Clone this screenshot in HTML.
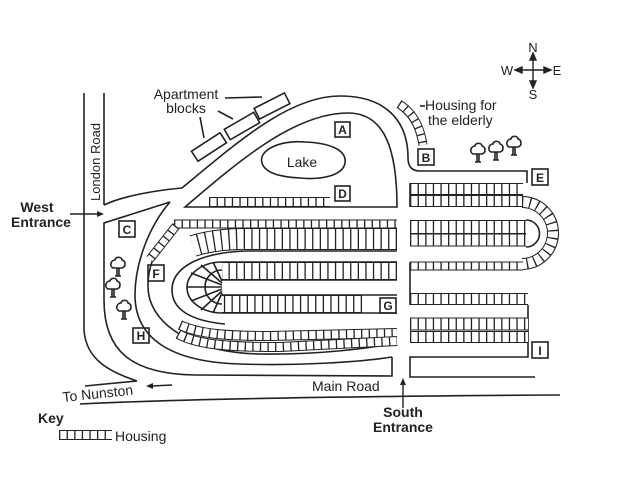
<!DOCTYPE html>
<html><head><meta charset="utf-8"><style>
html,body{margin:0;padding:0;background:#fff;}
svg{display:block;}
text{font-family:"Liberation Sans",sans-serif;fill:#222;}
.l{fill:none;stroke:#222;stroke-width:1.6;}
.rb{fill:none;stroke:#222;}
.rw{fill:none;stroke:#fff;stroke-dasharray:6.3 1.3;stroke-dashoffset:6.3;}
</style></head><body>
<svg width="634" height="488" viewBox="0 0 634 488" xmlns="http://www.w3.org/2000/svg">
<defs>
<path id="d" d="M209,202 L330,202"/>
<path id="e1" d="M410,189 L523,189"/>
<path id="e2" d="M410,201 L523,201"/>
<path id="eloop" d="M522,202 A31,31 0 0 1 522,264"/>
<path id="e3" d="M410,266 L523,266"/>
<path id="i1" d="M410,227 L526,227"/>
<path id="i2" d="M410,240 L526,240"/>
<path id="r1" d="M410,299 L528,299"/>
<path id="r2" d="M410,324 L528,324"/>
<path id="r3" d="M410,337 L528,337"/>
<path id="t1" d="M174,224 L397,224"/>
<path id="t2" d="M397,239 L245,239 Q215,239 193,246"/>
<path id="fs" d="M176,226 L150,259"/>
<path id="g1" d="M397,271 L222,271"/>
<path id="g2" d="M362,304 L222,304"/>
<path id="h1" d="M180,325 C200,334 225,336 270,336 L397,333"/>
<path id="h2" d="M178,334 C198,345 230,347 280,347 L397,341"/>
<path id="el" d="M399,104 C412,112 420,125 423,145"/>
<path id="key" d="M59,435 L112,435"/>
</defs>

<!-- compass -->
<g stroke="#222" stroke-width="1.4" fill="#222">
<line x1="533" y1="56" x2="533" y2="85"/>
<line x1="517" y1="70" x2="549" y2="70"/>
<polygon points="533,53 530,60 536,60"/><polygon points="533,88 530,81 536,81"/>
<polygon points="515,70 522,67 522,73"/><polygon points="551,70 544,67 544,73"/>
</g>
<text x="533" y="52" font-size="13" text-anchor="middle">N</text>
<text x="533" y="99" font-size="13" text-anchor="middle">S</text>
<text x="507" y="75" font-size="13" text-anchor="middle">W</text>
<text x="557" y="75" font-size="13" text-anchor="middle">E</text>

<!-- London Road -->
<path class="l" d="M84,93 L84,330 C86,360 110,372 137,381"/>
<path class="l" d="M85,386 L137,381"/>
<path class="l" d="M104,93 L104,205"/>
<text transform="translate(100,162) rotate(-90)" font-size="13" text-anchor="middle">London Road</text>

<!-- top road -->
<path class="l" d="M104,205 C125,195 160,190 182,188 C240,140 290,96 340,96 C385,96 408,120 408,158 Q408,171 420,171 L527,171 L527,183"/>
<path class="l" d="M185,207 C240,160 295,113 348,113 C385,113 397,150 397,207 Z"/>
<!-- apartment blocks -->
<g class="l" stroke-width="1.4">
<rect x="-17" y="-6" width="34" height="12" transform="translate(209,147) rotate(-33)"/>
<rect x="-17" y="-6" width="34" height="12" transform="translate(242,126) rotate(-30)"/>
<rect x="-17" y="-6" width="34" height="12" transform="translate(272,106) rotate(-27)"/>
<path d="M225,98 L262,97 M218,111 L233,119 M200,117 L204,138"/>
</g>
<text x="186" y="99" font-size="14" text-anchor="middle">Apartment</text>
<text x="186" y="113" font-size="14" text-anchor="middle">blocks</text>
<!-- lake -->
<path class="l" d="M262,163 C258,150 280,140 305,142 C330,143 347,150 345,163 C343,176 320,180 300,178 C280,177 265,173 262,163 Z"/>
<text x="302" y="167" font-size="14" text-anchor="middle">Lake</text>

<!-- elderly housing -->
<path class="l" d="M420,106 L425,106" stroke-width="1.2"/>
<text x="425" y="110" font-size="14">Housing for</text>
<text x="428" y="125" font-size="14">the elderly</text>

<!-- C/H region and roads -->
<path class="l" d="M170,202 L104,223 L104,300 C104,350 130,374 195,375 L392,376 L392,357"/>
<path class="l" d="M170,202 C150,225 135,262 135,295 C135,338 170,362 240,364 C300,366 360,362 392,357"/>
<path class="l" d="M176,222 C155,245 143,275 150,300 C160,330 200,353 260,354 C320,355 370,348 397,343"/>
<path class="l" d="M397,251 L245,251 C198,253 172,268 172,290 C172,310 192,321 225,324"/>
<path class="l" d="M397,262 L222,262 A35,25.5 0 0 0 222,313 L397,313"/>
<path class="l" d="M222,280 L397,280 M222,295 L397,295"/>
<!-- fan in G -->
<g class="l" stroke-width="1.2">
<path d="M222,270 A17,17 0 0 0 222,304"/>
<path d="M222,287 L187,287 M222,285 L191,273 M222,289 L191,301 M222,291 L201,310 M222,283 L201,265 M222,293 L213,313 M222,281 L213,262"/>
</g>

<!-- right structure lines -->
<path class="l" d="M410,262 L410,305 M528,305 L528,357 L410,357 L410,377 L535,377"/>
<path class="l" d="M410,183 L410,207"/>
<path class="l" d="M526,220 A13.5,13.5 0 0 1 526,247"/>
<!-- main road -->
<path class="l" d="M80,404 C200,398 400,396 560,395"/>

<!-- housing rows -->
<g>
<use href="#d" class="rb" stroke-width="10"/><use href="#d" class="rw" stroke-width="8"/>
<use href="#e1" class="rb" stroke-width="12"/><use href="#e1" class="rw" stroke-width="10"/>
<use href="#e2" class="rb" stroke-width="12"/><use href="#e2" class="rw" stroke-width="10"/>
<use href="#eloop" class="rb" stroke-width="12"/><use href="#eloop" class="rw" stroke-width="10"/>
<use href="#e3" class="rb" stroke-width="9"/><use href="#e3" class="rw" stroke-width="7"/>
<use href="#i1" class="rb" stroke-width="14"/><use href="#i1" class="rw" stroke-width="12"/>
<use href="#i2" class="rb" stroke-width="13"/><use href="#i2" class="rw" stroke-width="11"/>
<use href="#r1" class="rb" stroke-width="12"/><use href="#r1" class="rw" stroke-width="10"/>
<use href="#r2" class="rb" stroke-width="13"/><use href="#r2" class="rw" stroke-width="11"/>
<use href="#r3" class="rb" stroke-width="12"/><use href="#r3" class="rw" stroke-width="10"/>
<use href="#t1" class="rb" stroke-width="9"/><use href="#t1" class="rw" stroke-width="7"/>
<use href="#t2" class="rb" stroke-width="22"/><use href="#t2" class="rw" stroke-width="20"/>
<use href="#fs" class="rb" stroke-width="9"/><use href="#fs" class="rw" stroke-width="7"/>
<use href="#g1" class="rb" stroke-width="18"/><use href="#g1" class="rw" stroke-width="16"/>
<use href="#g2" class="rb" stroke-width="18"/><use href="#g2" class="rw" stroke-width="16"/>
<use href="#h1" class="rb" stroke-width="10"/><use href="#h1" class="rw" stroke-width="8"/>
<use href="#h2" class="rb" stroke-width="10"/><use href="#h2" class="rw" stroke-width="8"/>
<use href="#el" class="rb" stroke-width="9"/><use href="#el" class="rw" stroke-width="7"/>
<use href="#key" class="rb" stroke-width="10"/><use href="#key" class="rw" stroke-width="8"/>
</g>

<!-- label boxes -->
<g font-size="12" font-weight="bold" text-anchor="middle">
<rect x="335" y="122" width="15" height="15" class="l" stroke-width="1.3"/><text x="342.5" y="134">A</text>
<rect x="418" y="149" width="16" height="16" class="l" stroke-width="1.3"/><text x="426" y="162">B</text>
<rect x="119" y="221" width="16" height="16" class="l" stroke-width="1.3"/><text x="127" y="234">C</text>
<rect x="335" y="186" width="15" height="15" class="l" stroke-width="1.3"/><text x="342.5" y="198">D</text>
<rect x="532" y="169" width="16" height="16" class="l" stroke-width="1.3"/><text x="540" y="182">E</text>
<rect x="148" y="265" width="16" height="16" class="l" stroke-width="1.3"/><text x="156" y="278">F</text>
<rect x="380" y="298" width="16" height="15" class="l" stroke-width="1.3" fill="#fff"/><text x="388" y="310">G</text>
<rect x="133" y="328" width="16" height="15" class="l" stroke-width="1.3"/><text x="141" y="340">H</text>
<rect x="532" y="342" width="16" height="16" class="l" stroke-width="1.3"/><text x="540" y="355">I</text>
</g>

<!-- trees -->
<g class="l" stroke-width="1.2">
<g transform="translate(118,266)"><path d="M-1,10 L-1,2 M1,10 L1,2 M-3,10 L3,10"/><path d="M-5,2 C-9,0 -7,-6 -3,-6 C-2,-10 4,-9 4,-6 C8,-5 8,1 4,2 Z" fill="#fff"/></g>
<g transform="translate(113,287)"><path d="M-1,10 L-1,2 M1,10 L1,2 M-3,10 L3,10"/><path d="M-5,2 C-9,0 -7,-6 -3,-6 C-2,-10 4,-9 4,-6 C8,-5 8,1 4,2 Z" fill="#fff"/></g>
<g transform="translate(124,309)"><path d="M-1,10 L-1,2 M1,10 L1,2 M-3,10 L3,10"/><path d="M-5,2 C-9,0 -7,-6 -3,-6 C-2,-10 4,-9 4,-6 C8,-5 8,1 4,2 Z" fill="#fff"/></g>
<g transform="translate(478,152)"><path d="M-1,10 L-1,2 M1,10 L1,2 M-3,10 L3,10"/><path d="M-5,2 C-9,0 -7,-6 -3,-6 C-2,-10 4,-9 4,-6 C8,-5 8,1 4,2 Z" fill="#fff"/></g>
<g transform="translate(496,150)"><path d="M-1,10 L-1,2 M1,10 L1,2 M-3,10 L3,10"/><path d="M-5,2 C-9,0 -7,-6 -3,-6 C-2,-10 4,-9 4,-6 C8,-5 8,1 4,2 Z" fill="#fff"/></g>
<g transform="translate(514,145)"><path d="M-1,10 L-1,2 M1,10 L1,2 M-3,10 L3,10"/><path d="M-5,2 C-9,0 -7,-6 -3,-6 C-2,-10 4,-9 4,-6 C8,-5 8,1 4,2 Z" fill="#fff"/></g>
</g>

<!-- west entrance -->
<text x="37" y="212" font-size="14" font-weight="bold" text-anchor="middle">West</text>
<text x="41" y="227" font-size="14" font-weight="bold" text-anchor="middle">Entrance</text>
<line x1="70" y1="214" x2="100" y2="214" stroke="#222" stroke-width="1.4"/>
<polygon points="104,214 97,211 97,217" fill="#222"/>

<!-- bottom labels -->
<text transform="translate(63,402) rotate(-6)" font-size="14">To Nunston</text>
<line x1="152" y1="386" x2="172" y2="385" stroke="#222" stroke-width="1.4"/>
<polygon points="146,386 153,383 153,389" fill="#222"/>
<text x="312" y="391" font-size="14">Main Road</text>
<line x1="403" y1="408" x2="403" y2="384" stroke="#222" stroke-width="1.4"/>
<polygon points="403,378 400,385 406,385" fill="#222"/>
<text x="403" y="417" font-size="14" font-weight="bold" text-anchor="middle">South</text>
<text x="403" y="432" font-size="14" font-weight="bold" text-anchor="middle">Entrance</text>
<text x="38" y="423" font-size="14" font-weight="bold">Key</text>
<text x="115" y="441" font-size="14">Housing</text>
</svg>
</body></html>
